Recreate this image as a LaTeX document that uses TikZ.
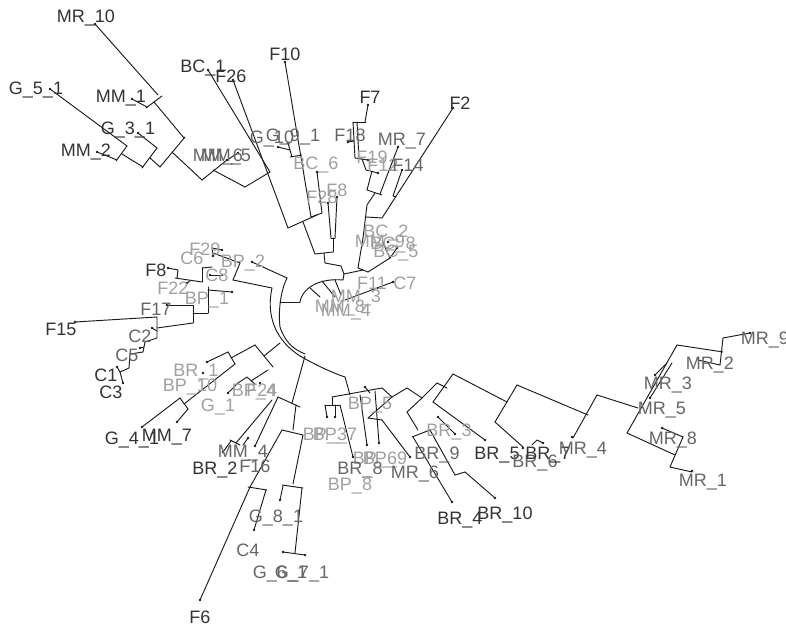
\documentclass[tikz,border=0pt]{standalone}
\usepackage{fontspec}
\setmainfont{Liberation Sans}
\definecolor{TreeLine}{HTML}{1A1A1A}
\definecolor{TreeDark}{HTML}{333333}
\definecolor{TreeMid}{HTML}{666666}
\definecolor{TreeLight}{HTML}{A0A0A0}
\newcommand{\lbfont}{\fontsize{13.5}{14}\selectfont}

\begin{document}
\begin{tikzpicture}[x=0.75pt,y=-0.75pt,line cap=round,line join=round,
  br/.style={TreeLine,line width=0.7pt},
  lbD/.style={font=\lbfont,text=TreeDark,inner sep=0pt},
  lbM/.style={font=\lbfont,text=TreeMid,inner sep=0pt},
  lbL/.style={font=\lbfont,text=TreeLight,inner sep=0pt}]
  \useasboundingbox[fill=white] (0,0) rectangle (786,627);

  % upper left clade
  \draw[br] (95,24) -- (158,95);
  \draw[br] (132,99) -- (147,107);
  \draw[br] (146,108) -- (162,96);
  \draw[br] (154,102) -- (184,138);
  \draw[br] (185,137) -- (160,167);
  \draw[br] (50,89) -- (127,146);
  \draw[br] (97,152) -- (117,160);
  \draw[br] (116,161) -- (127,146);
  \draw[br] (122,154) -- (143,167);
  \draw[br] (142,168) -- (157,148);
  \draw[br] (138,133) -- (157,148);
  \draw[br] (150,158) -- (160,167);
  \draw[br] (172,152) -- (202,180);
  \draw[br] (202,180) -- (227,160) -- (238,153);
  \draw[br] (213,170) -- (245,187);
  \draw[br] (245,187) -- (270,172);
  \draw[br] (208,70) -- (270,172);
  \draw[br] (233,80) -- (288,228);
  \draw[br] (288,228) -- (317,215);
  \draw[br] (303,222) -- (315,254);
  \draw[br] (285,62) -- (311,217);
  \draw[br] (317,172) -- (322,213);
  \draw[br] (311,217) -- (322,213);
  \draw[br] (278,147) -- (290,150);
  \draw[br] (288,143) -- (292,157);
  \draw[br] (290,157) -- (302,155);
  \draw[br] (328,203) -- (331,238);
  \draw[br] (337,197) -- (335,238);
  \draw[br] (331,238) -- (335,238);
  \draw[br] (333,238) -- (333,252);
  \draw[br] (315,254) -- (333,252);
  \draw[br] (324,253) -- (325,263) -- (341,266) -- (344,274);

  % upper right clade
  \draw[br] (368,105) -- (365,122);
  \draw[br] (353,122) -- (366,122);
  \draw[br] (348,142) -- (354,141);
  \draw[br] (353,122) -- (355,158);
  \draw[br] (357,122) -- (359,158);
  \draw[br] (355,158) -- (368,160);
  \draw[br] (362,159) -- (366,170);
  \draw[br] (366,170) -- (378,173);
  \draw[br] (372,171) -- (367,190);
  \draw[br] (398,147) -- (380,194);
  \draw[br] (367,190) -- (382,195);
  \draw[br] (402,170) -- (393,196) -- (396,197);
  \draw[br] (375,193) -- (367,205) -- (363,238);
  \draw[br] (453,108) -- (382,218);
  \draw[br] (366,217) -- (382,218);
  \draw[br] (363,238) -- (358,268);
  \draw[br] (358,268) -- (368,272);
  \draw[br] (344,274) -- (363,270);
  \draw[br] (368,272) -- (390,258);
  \draw[br] (390,258) -- (383,243);
  \draw[br] (390,258) -- (397,248);

  % centre
  \draw[br] (300,302) .. controls (303,286) and (322,278) .. (343,280);
  \draw[br] (343,280) -- (344,274);
  \draw[br] (280,302) -- (300,302);
  \draw[br] (310,288) -- (320,297);
  \draw[br] (322,281) -- (335,297);
  \draw[br] (335,280) -- (341,295);
  \draw[br] (345,300) -- (393,282);
  \draw[br] (272,288) .. controls (266,315) and (275,340) .. (300,356)
    .. controls (312,363) and (330,372) .. (345,377);
  \draw[br] (287,278) .. controls (281,290) and (278,310) .. (280,327)
    .. controls (285,342) and (293,349) .. (305,354);

  % left clade
  \draw[br] (252,262) -- (287,278);
  \draw[br] (233,280) -- (272,288);
  \draw[br] (240,263) -- (233,280);
  \draw[br] (213,253) -- (240,263);
  \draw[br] (212,248) -- (222,250);
  \draw[br] (212,248) -- (213,256);
  \draw[br] (168,268) -- (178,270) -- (177,278);
  \draw[br] (175,278) -- (202,282);
  \draw[br] (187,283) -- (190,281);
  \draw[br] (202,268) -- (202,282);
  \draw[br] (202,268) -- (212,267);
  \draw[br] (210,275) -- (222,275);
  \draw[br] (208,290) -- (232,292);
  \draw[br] (208,287) -- (208,313);
  \draw[br] (193,313) -- (208,313);
  \draw[br] (167,305) -- (193,305) -- (193,323);
  \draw[br] (75,322) -- (157,317) -- (157,338);
  \draw[br] (157,328) -- (193,323);
  \draw[br] (152,328) -- (157,331);
  \draw[br] (157,338) -- (145,342) -- (143,352) -- (130,354) -- (129,368) -- (120,372);
  \draw[br] (140,348) -- (144,347);
  \draw[br] (117,367) -- (120,372) -- (123,383);

  % lower left clade
  \draw[br] (207,362) -- (228,352);
  \draw[br] (228,352) -- (235,364);
  \draw[br] (231,358) -- (255,345);
  \draw[br] (255,345) -- (273,367);
  \draw[br] (264,356) -- (280,343);
  \draw[br] (142,427) -- (180,398);
  \draw[br] (180,398) -- (188,409);
  \draw[br] (177,422) -- (188,409);
  \draw[br] (184,404) -- (235,364);
  \draw[br] (228,393) -- (238,383);
  \draw[br] (238,383) -- (247,377) -- (256,385);
  \draw[br] (251,381) -- (268,370);
  \draw[br] (305,356) -- (292,403);
  \draw[br] (278,397) -- (300,407);
  \draw[br] (278,397) -- (255,446);
  \draw[br] (272,400) -- (236,443);
  \draw[br] (230,440) -- (240,445);
  \draw[br] (223,452) -- (231,441);
  \draw[br] (248,438) -- (243,445);
  \draw[br] (296,405) -- (293,430);
  \draw[br] (282,430) -- (303,435);
  \draw[br] (282,430) -- (250,487);
  \draw[br] (248,487) -- (267,490);
  \draw[br] (250,487) -- (200,600);
  \draw[br] (266,490) -- (254,530);
  \draw[br] (303,435) -- (293,484);
  \draw[br] (282,485) -- (303,488);
  \draw[br] (280,500) -- (283,486);
  \draw[br] (302,488) -- (295,553);
  \draw[br] (283,552) -- (305,555);

  % lower middle clade
  \draw[br] (345,377) -- (350,395);
  \draw[br] (332,397) -- (382,388);
  \draw[br] (332,397) -- (332,405);
  \draw[br] (325,405) -- (340,405);
  \draw[br] (325,405) -- (327,417);
  \draw[br] (335,405) -- (335,417);
  \draw[br] (340,405) -- (353,457);
  \draw[br] (360,395) -- (367,445);
  \draw[br] (375,391) -- (379,443);
  \draw[br] (382,388) -- (392,397);
  \draw[br] (392,397) -- (368,418);
  \draw[br] (368,418) -- (382,420);
  \draw[br] (382,420) -- (410,457);
  \draw[br] (365,387) -- (370,393);

  % right clade
  \draw[br] (392,397) -- (407,388);
  \draw[br] (407,388) -- (422,398);
  \draw[br] (422,398) -- (407,412);
  \draw[br] (407,412) -- (418,430);
  \draw[br] (412,437) -- (430,430);
  \draw[br] (413,437) -- (452,502);
  \draw[br] (430,430) -- (455,475);
  \draw[br] (455,475) -- (465,472);
  \draw[br] (465,472) -- (495,498);
  \draw[br] (422,398) -- (437,383);
  \draw[br] (437,383) -- (447,388);
  \draw[br] (433,402) -- (453,374);
  \draw[br] (453,374) -- (507,402);
  \draw[br] (433,402) -- (485,440);
  \draw[br] (438,417) -- (455,434);
  \draw[br] (495,422) -- (517,385);
  \draw[br] (495,422) -- (523,447);
  \draw[br] (532,445) -- (537,440) -- (543,443);
  \draw[br] (517,385) -- (588,415);
  \draw[br] (573,438) -- (597,395);
  \draw[br] (597,395) -- (638,408);
  \draw[br] (627,433) -- (677,345);
  \draw[br] (627,433) -- (675,455);
  \draw[br] (670,467) -- (683,437);
  \draw[br] (683,437) -- (662,428);
  \draw[br] (670,467) -- (692,472);
  \draw[br] (677,345) -- (723,352);
  \draw[br] (720,365) -- (723,338);
  \draw[br] (723,338) -- (750,333);
  \draw[br] (720,365) -- (698,360);
  \draw[br] (650,398) -- (672,363);
  \draw[br] (655,375) -- (667,363);

  % tips
  \foreach \p in {(95,24),(132,99),(50,89),(138,133),(97,152),(208,70),(233,80),
      (285,62),(227,160),(238,153),(278,147),(288,143),(317,172),(328,203),(337,197),
      (368,105),(348,142),(368,160),(378,173),(398,147),(402,170),(453,108),
      (383,243),(388,242),(397,248),(393,282),(378,288),
      (222,250),(213,256),(252,262),(168,268),(187,283),(210,275),(222,275),
      (232,292),(167,305),(75,322),(152,328),(140,348),(117,367),(123,383),
      (207,362),(203,373),(228,393),(260,383),(142,427),(177,422),(255,446),
      (223,452),(248,438),(200,600),(254,530),(280,500),(283,552),(305,555),
      (327,417),(335,417),(365,387),(353,457),(367,445),(379,443),(410,457),
      (452,502),(495,498),(438,417),(455,434),(485,440),(523,448),(543,443),
      (572,437),(662,428),(692,471),(750,333),(698,358),(655,375),(650,398)}
    \fill[TreeLine] \p circle (1.1pt);

  % labels
  \node[lbD] (lMR10) at (86,18) {MR\_10};
  \node[lbD] (lG51) at (36,90) {G\_5\_1};
  \node[lbD] (lMM1) at (121,98) {MM\_1};
  \node[lbD] (lG31) at (128,130) {G\_3\_1};
  \node[lbD] (lMM2) at (86,152) {MM\_2};
  \node[lbD] (lBC1) at (203,68) {BC\_1};
  \node[lbD] (lF26) at (231,76) {F26};
  \node[lbD] (lF10) at (285,54) {F10};
  \node[lbM] (lMM6) at (218,157) {MM\_6};
  \node[lbM] (lMM5) at (226,157) {MM\_5};
  \node[lbM] (lG10) at (272,139) {G\_10};
  \node[lbM] (lG91) at (293,137) {G\_9\_1};
  \node[lbL] (lBC6) at (316,165) {BC\_6};
  \node[lbL] (lF28) at (322,197) {F28};
  \node[lbL] (lF8b) at (337,190) {F8};
  \node[lbD] (lF7) at (370,97) {F7};
  \node[lbM] (lF18) at (350,135) {F18};
  \node[lbM] (lMR7) at (402,141) {MR\_7};
  \node[lbL] (lF19) at (372,157) {F19};
  \node[lbL] (lF12) at (383,165) {F12};
  \node[lbM] (lF14) at (408,165) {F14};
  \node[lbD] (lF2) at (460,103) {F2};
  \node[lbL] (lBC2) at (386,233) {BC\_2};
  \node[lbL] (lMM9) at (380,243) {MM\_9};
  \node[lbL] (lBC8) at (393,245) {BC\_8};
  \node[lbL] (lBC5) at (396,253) {BC\_5};
  \node[lbL] (lF11) at (372,283) {F11};
  \node[lbL] (lC7) at (405,283) {C7};
  \node[lbL] (lMM3) at (356,298) {MM\_3};
  \node[lbL] (lMM8) at (340,308) {MM\_8};
  \node[lbL] (lMR8c) at (346,312) {MM\_4};
  \node[lbL] (lF29) at (205,249) {F29};
  \node[lbL] (lC6) at (192,258) {C6};
  \node[lbL] (lBP2) at (243,263) {BP\_2};
  \node[lbD] (lF8) at (156,270) {F8};
  \node[lbL] (lC8) at (217,275) {C8};
  \node[lbL] (lF22) at (173,288) {F22};
  \node[lbL] (lBP1) at (207,300) {BP\_1};
  \node[lbM] (lF17) at (156,309) {F17};
  \node[lbD] (lF15) at (61,329) {F15};
  \node[lbM] (lC2) at (140,336) {C2};
  \node[lbM] (lC5) at (127,355) {C5};
  \node[lbD] (lC1) at (106,375) {C1};
  \node[lbD] (lC3) at (111,392) {C3};
  \node[lbL] (lBR1) at (196,372) {BR\_1};
  \node[lbL] (lBP10) at (190,387) {BP\_10};
  \node[lbL] (lG1) at (218,407) {G\_1};
  \node[lbL] (lBP4) at (254,392) {BP\_4};
  \node[lbL] (lF24) at (262,390) {F24};
  \node[lbD] (lG41) at (132,440) {G\_4\_1};
  \node[lbD] (lMM7) at (167,437) {MM\_7};
  \node[lbM] (lMM4) at (243,453) {MM\_4};
  \node[lbD] (lBR2) at (215,470) {BR\_2};
  \node[lbM] (lF16) at (255,466) {F16};
  \node[lbM] (lG81) at (276,518) {G\_8\_1};
  \node[lbM] (lC4) at (248,550) {C4};
  \node[lbM] (lG61) at (280,574) {G\_6\_1};
  \node[lbM] (lG71) at (302,574) {G\_7\_1};
  \node[lbD] (lF6) at (200,617) {F6};
  \node[lbL] (lBP3) at (325,436) {BP\_3};
  \node[lbL] (lBP7) at (335,436) {BP\_7};
  \node[lbL] (lBP5) at (370,405) {BP\_5};
  \node[lbL] (lBP6) at (375,460) {BP\_6};
  \node[lbL] (lBP9) at (385,460) {BP\_9};
  \node[lbM] (lBR8) at (360,470) {BR\_8};
  \node[lbL] (lBP8) at (350,486) {BP\_8};
  \node[lbM] (lMR6) at (415,474) {MR\_6};
  \node[lbM] (lBR9) at (437,455) {BR\_9};
  \node[lbL] (lBR3) at (449,432) {BR\_3};
  \node[lbD] (lBR5) at (497,455) {BR\_5};
  \node[lbM] (lBR6) at (535,463) {BR\_6};
  \node[lbD] (lBR7) at (548,455) {BR\_7};
  \node[lbD] (lBR4) at (460,520) {BR\_4};
  \node[lbD] (lBR10) at (505,515) {BR\_10};
  \node[lbM] (lMR4) at (583,450) {MR\_4};
  \node[lbM] (lMR9) at (765,340) {MR\_9};
  \node[lbM] (lMR2) at (710,365) {MR\_2};
  \node[lbM] (lMR3) at (668,385) {MR\_3};
  \node[lbM] (lMR5) at (662,410) {MR\_5};
  \node[lbM] (lMR8) at (673,440) {MR\_8};
  \node[lbM] (lMR1) at (703,482) {MR\_1};
\end{tikzpicture}
\end{document}
